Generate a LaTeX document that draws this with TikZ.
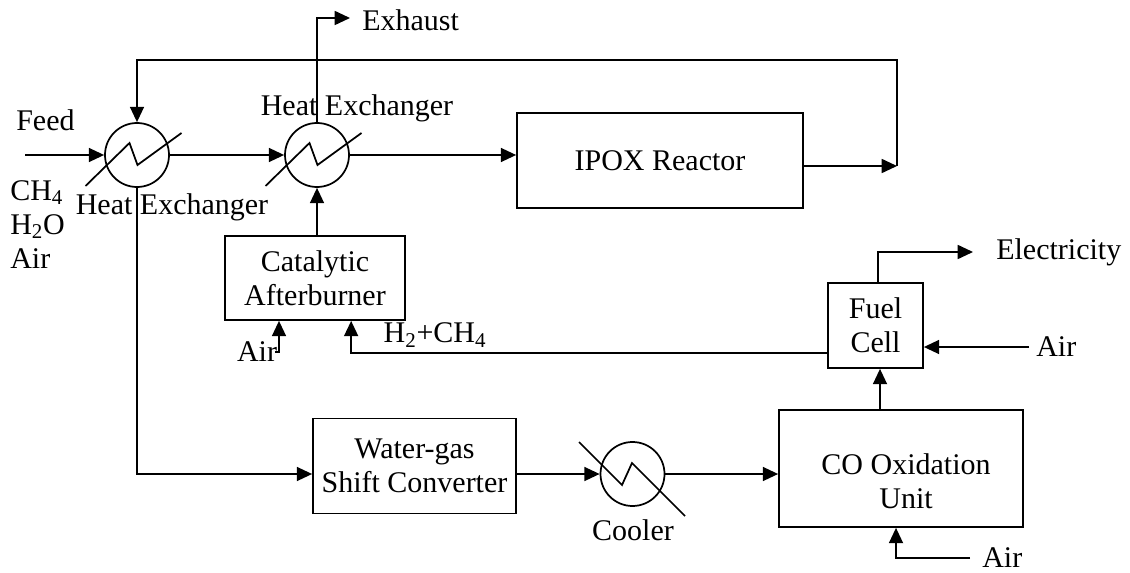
\documentclass[tikz,border=0pt]{standalone}
\usepackage{fontspec}
\setmainfont{Liberation Serif}
\usetikzlibrary{arrows.meta,calc}
\newcommand{\pxu}{0.75pt}
\begin{document}
\begin{tikzpicture}[x=0.75pt,y=-0.75pt,
  every node/.style={font=\fontsize{22.5}{25.5}\selectfont, inner sep=0pt},
  line/.style={line width=1.3pt, line join=miter},
  arr/.style={line, -{Triangle[length=11.5pt,width=10.5pt]}},
  unitbox/.style={draw, line width=1.3pt, align=center, rectangle},
  hxc/.style={draw, line width=1.3pt, circle, minimum size=64*\pxu},
  lbl/.style={align=left}]
\useasboundingbox (0,0) rectangle (1130,573);

% equipment
\node[hxc] (hx1) at (137,155) {};
\node[hxc] (hx2) at (317,155) {};
\node[hxc] (cool) at (632.5,474) {};
\node[unitbox, minimum width=286*\pxu, minimum height=95*\pxu] (ipox) at (660,160.5) {IPOX Reactor};
\node[unitbox, minimum width=180*\pxu, minimum height=84*\pxu] (ab) at (315,278) {Catalytic\\ Afterburner};
\node[unitbox, minimum width=95*\pxu, minimum height=85*\pxu] (fc) at (875.5,325.5) {Fuel\\Cell};
\node[unitbox, minimum width=203*\pxu, minimum height=95*\pxu] (wgs) at (414.5,466) {Water-gas\\Shift Converter};
\node[unitbox, minimum width=244*\pxu, minimum height=117*\pxu] (co) at (901,468.5) {};
\node[align=center] (cotext) at (906,481) {CO Oxidation\\Unit};

% exchanger zigzags
\draw[line, shift={(hx1.center)}] (-51.5,31) -- (-7.5,-12) -- (0.5,10) -- (44.5,-22);
\draw[line, shift={(hx2.center)}] (-51.5,31) -- (-7.5,-12) -- (0.5,10) -- (44.5,-22);
\draw[line, shift={(cool.center)}] (-53.5,-32) -- (-10.5,11) -- (-0.5,-11) -- (52.5,42);

% labels
\node[anchor=west] (feed) at (16,120) {Feed};
\node[lbl, anchor=north west] (comp) at (10,180) {CH\textsubscript{4}\\H\textsubscript{2}O\\Air};
\node (hx1l) at (172,207) {Heat Exchanger};
\node (hx2l) at (357,108) {Heat Exchanger};
\node[anchor=west] (exl) at (362,20) {Exhaust};
\node[anchor=west] (ell) at (996,252) {Electricity};
\node[anchor=west] (fcairl) at (1036,347) {Air};
\node[anchor=west] (coairl) at (982,558) {Air};
\node (abairl) at (257,352) {Air};
\node (cooll) at (633,530) {Cooler};
\node (h2l) at (435,335) {H\textsubscript{2}+CH\textsubscript{4}};

% free ends
\coordinate (feedin) at (25,155);
\coordinate (rj) at (897,166);
\coordinate (rtop) at (897,60);
\coordinate (exh) at (350,18);
\coordinate (elec) at (973,252);
\coordinate (fcair) at (1029,347);
\coordinate (coair) at (970,558);
\coordinate (abair) at (275,352);

% connectors
\draw[arr] (feedin) -- (hx1.west);
\draw[arr] (hx1.east) -- (hx2.west);
\draw[arr] (hx2.east) -- (ipox.west |- hx2.east);
\draw[arr] (ipox.east |- rj) -- (rj);
\draw[arr] (rj) -- (rtop) -| (hx1.north);
\draw[arr] (hx2.north) |- (exh);
\draw[arr] (hx2.south |- ab.north) -- (hx2.south);
\draw[arr] (abair) -| ($(ab.south)+(-36,0)$);
\draw[arr] ($(fc.south west)+(0,-16)$) -| ($(ab.south west)+(127,0)$);
\draw[arr] (hx1.south) |- (wgs.west |- cool.center);
\draw[arr] (wgs.east |- cool.center) -- (cool.west);
\draw[arr] (cool.east) -- (co.west |- cool.east);
\draw[arr] (coair) -| ($(co.south)+(-5,0)$);
\draw[arr] ($(co.north)+(-21,0)$) -- ($(fc.south)+(4.5,0)$);
\draw[arr] (fcair) -- (fc.east |- fcair);
\draw[arr] ($(fc.north)+(2.5,0)$) |- (elec);
\end{tikzpicture}
\end{document}
